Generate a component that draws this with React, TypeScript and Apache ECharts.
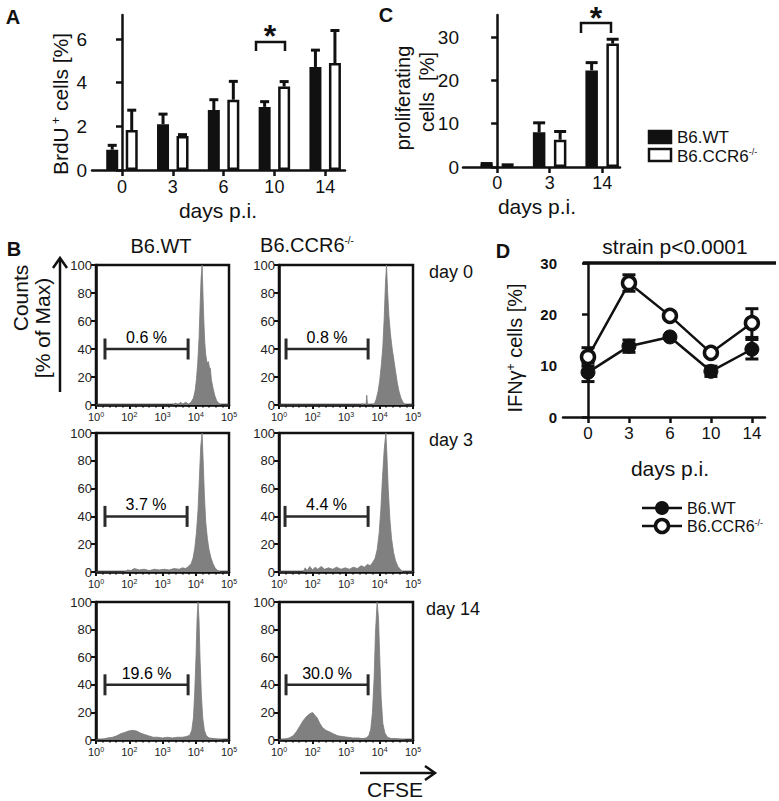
import React, { useEffect, useRef } from 'react';
import * as echarts from 'echarts';

// ---------- data ----------
const DAYS_A = ['0', '3', '6', '10', '14'];
const BRDU_WT = [0.93, 2.1, 2.75, 2.89, 4.72];
const BRDU_WT_ERR = [0.2, 0.46, 0.47, 0.24, 0.77];
const BRDU_KO = [1.83, 1.56, 3.22, 3.82, 4.9];
const BRDU_KO_ERR = [0.91, 0.06, 0.84, 0.23, 1.49];

const DAYS_C = ['0', '3', '14'];
const PROLIF_WT = [0.6, 8.0, 22.3];
const PROLIF_WT_ERR = [0.2, 2.2, 1.8];
const PROLIF_KO = [0.4, 6.3, 28.5];
const PROLIF_KO_ERR = [0.1, 1.9, 1.0];

const DAYS_D = ['0', '3', '6', '10', '14'];
const IFN_WT = [8.7, 13.8, 15.6, 8.9, 13.2];
const IFN_WT_ERR = [1.8, 1.2, 0.3, 1.0, 1.9];
const IFN_KO = [11.7, 26.1, 19.7, 12.5, 18.3];
const IFN_KO_ERR = [1.8, 1.6, 0.5, 0.4, 2.8];

const SERIES_NAMES = ['B6.WT', 'B6.CCR6'];
const CFSE_EXP = ['0', '2', '3', '4', '5'];
const ROW_LABELS = ['day 0', 'day 3', 'day 14'];

// histograms: [display position on CFSE axis, % of max]
const H_WT_D0 = [[0,0],[2.3,0],[2.4,1.5],[2.45,0],[2.55,2],[2.6,0.5],[2.7,2],[2.78,0.5],[2.86,2],[2.93,5],[2.98,10],[3.02,18],[3.06,30],[3.1,48],[3.13,70],[3.16,90],[3.19,100],[3.21,85],[3.24,62],[3.27,45],[3.3,36],[3.34,30],[3.38,31],[3.41,27],[3.44,26],[3.47,18],[3.52,12],[3.57,7],[3.63,3],[3.7,1],[3.78,0],[4,0]];
const H_KO_D0 = [[0,0],[2.45,0],[2.5,1],[2.55,0],[2.6,0.5],[2.62,7],[2.64,0.5],[2.75,0],[2.85,1],[2.9,4],[2.96,10],[3.01,18],[3.06,30],[3.1,42],[3.14,62],[3.18,88],[3.21,100],[3.24,82],[3.28,64],[3.33,50],[3.38,40],[3.43,32],[3.48,24],[3.53,16],[3.58,10],[3.64,5],[3.7,2],[3.78,0],[4,0]];
const H_WT_D3 = [[0,0],[0.85,0],[0.95,1.5],[1.05,1],[1.15,2.5],[1.3,1.5],[1.45,2],[1.6,1],[1.75,2],[1.9,1.5],[2.05,2],[2.2,1.5],[2.35,2.5],[2.5,2],[2.6,3],[2.7,2.5],[2.78,4],[2.86,6],[2.92,10],[2.97,17],[3.02,28],[3.07,45],[3.11,68],[3.15,90],[3.19,100],[3.22,82],[3.26,55],[3.3,36],[3.35,24],[3.4,16],[3.46,10],[3.52,6],[3.58,3],[3.66,1],[3.75,0],[4,0]];
const H_KO_D3 = [[0,0],[0.72,0],[0.78,3],[0.84,1],[0.92,4],[1.0,1.5],[1.08,3.5],[1.16,2],[1.26,4],[1.36,2],[1.48,3],[1.6,2],[1.72,3.5],[1.85,2],[1.98,3],[2.1,2],[2.22,3.5],[2.34,2.5],[2.45,4.5],[2.55,3.5],[2.64,5.5],[2.72,4.5],[2.8,7],[2.87,10],[2.93,16],[2.99,28],[3.04,45],[3.09,68],[3.14,88],[3.19,100],[3.22,85],[3.26,60],[3.31,38],[3.36,24],[3.42,14],[3.48,8],[3.55,4],[3.62,2],[3.7,0],[4,0]];
const H_WT_D14 = [[0,0],[0.2,0.5],[0.35,1.5],[0.5,2],[0.62,3],[0.74,4.5],[0.86,5.5],[0.98,6.5],[1.1,7],[1.22,6.5],[1.34,5],[1.46,4],[1.58,3],[1.72,2],[1.86,2],[2.0,1.5],[2.15,2],[2.3,1.5],[2.45,2],[2.6,2],[2.72,2.5],[2.82,3.5],[2.88,7],[2.93,16],[2.97,35],[3.01,62],[3.04,88],[3.07,100],[3.1,86],[3.13,58],[3.17,32],[3.21,16],[3.26,7],[3.32,3],[3.4,1.5],[3.55,1],[3.7,0.5],[3.85,0],[4,0]];
const H_KO_D14 = [[0,0],[0.15,0.5],[0.3,1.5],[0.42,3],[0.52,6],[0.62,10],[0.72,14],[0.82,17],[0.92,19],[1.0,20],[1.07,18],[1.14,16],[1.22,12],[1.3,9],[1.4,7],[1.5,6],[1.62,4.5],[1.76,3],[1.9,2.5],[2.05,2],[2.2,1.5],[2.35,1.5],[2.5,1],[2.6,1.5],[2.68,3],[2.74,8],[2.79,20],[2.84,45],[2.88,78],[2.93,100],[2.97,88],[3.01,58],[3.05,30],[3.1,12],[3.16,5],[3.24,2],[3.35,1],[3.5,1],[3.65,0.5],[3.8,0],[4,0]];
const HISTOGRAMS = [H_WT_D0, H_KO_D0, H_WT_D3, H_KO_D3, H_WT_D14, H_KO_D14];
const GATE_LO = [0.27, 0.21, 0.27, 0.18, 0.27, 0.21];
const GATE_HI = [2.77, 2.66, 2.74, 2.66, 2.77, 2.66];
const GATE_PCT = ['0.6 %', '0.8 %', '3.7 %', '4.4 %', '19.6 %', '30.0 %'];
const GATE_LEVEL = 40;

// ---------- style ----------
const FONT = "'Liberation Sans', Arial, Helvetica, sans-serif";
const INK = '#111';
const GRAY = '#808080';

const axisLine = { show: true, lineStyle: { color: INK, width: 2.5 } };
const axisTick = (len: number, w: number) => ({ show: true, length: len, lineStyle: { color: INK, width: w } });

function errSeries(xi: number, yi: number, means: number[], errs: number[], offset: number, cap: number, both: boolean, lw: number) {
  return {
    type: 'custom',
    xAxisIndex: xi,
    yAxisIndex: yi,
    z: 3,
    silent: true,
    data: means.map((m, i) => [i, m, errs[i]]),
    renderItem: (_p: any, api: any) => {
      const x = api.value(0);
      const m = api.value(1);
      const e = api.value(2);
      const lo = api.coord([x, both ? m - e : m]);
      const hi = api.coord([x, m + e]);
      const cx = lo[0] + offset;
      const st = { stroke: INK, lineWidth: lw };
      const children: any[] = [
        { type: 'line', shape: { x1: cx, y1: lo[1], x2: cx, y2: hi[1] }, style: st },
        { type: 'line', shape: { x1: cx - cap / 2, y1: hi[1], x2: cx + cap / 2, y2: hi[1] }, style: st },
      ];
      if (both) children.push({ type: 'line', shape: { x1: cx - cap / 2, y1: lo[1], x2: cx + cap / 2, y2: lo[1] }, style: st });
      return { type: 'group', children };
    },
  };
}

const gRich = (size: number, sup: number) => ({
  n: { fontSize: size, fontFamily: FONT, fill: INK },
  s: { fontSize: sup, fontFamily: FONT, fill: INK, verticalAlign: 'top' },
});

function txt(text: string, x: number, y: number, size: number, opts: any = {}) {
  return {
    type: 'text',
    x,
    y,
    rotation: opts.rotation || 0,
    silent: true,
    style: {
      text,
      fontSize: size,
      fontFamily: FONT,
      fontWeight: opts.bold ? 'bold' : 'normal',
      fill: INK,
      align: opts.align || 'center',
      verticalAlign: 'middle',
      rich: opts.rich,
    },
  };
}

function buildOption() {
  const grid: any[] = [];
  const xAxis: any[] = [];
  const yAxis: any[] = [];
  const series: any[] = [];

  // ---- A ----
  grid.push({ left: 92, top: 15, width: 253, height: 155 });
  xAxis.push({
    type: 'value', gridIndex: 0, min: -0.59, max: 4.39,
    axisLine, axisTick: { ...axisTick(6, 2.5), customValues: [0, 1, 2, 3, 4] },
    splitLine: { show: false },
    axisLabel: { customValues: [0, 1, 2, 3, 4], formatter: (v: number) => DAYS_A[Math.round(v)], fontSize: 18, fontFamily: FONT, color: INK, margin: 8 },
  });
  yAxis.push({
    type: 'value', gridIndex: 0, min: 0, max: 7.1,
    axisLine, axisTick: { ...axisTick(6, 2.5), customValues: [0, 2, 4, 6] },
    splitLine: { show: false },
    axisLabel: { customValues: [0, 2, 4, 6], fontSize: 19, fontFamily: FONT, color: INK, margin: 5 },
  });
  series.push(
    { type: 'bar', name: SERIES_NAMES[0], xAxisIndex: 0, yAxisIndex: 0, barWidth: 12, barGap: '62.5%', data: BRDU_WT.map((v, i) => [i, v]), itemStyle: { color: INK, borderColor: INK, borderWidth: 2.5 } },
    { type: 'bar', name: SERIES_NAMES[1], xAxisIndex: 0, yAxisIndex: 0, barWidth: 12, barGap: '62.5%', data: BRDU_KO.map((v, i) => [i, v]), itemStyle: { color: '#fff', borderColor: INK, borderWidth: 2.5 } },
    errSeries(0, 0, BRDU_WT, BRDU_WT_ERR, -9.75, 9, false, 3),
    errSeries(0, 0, BRDU_KO, BRDU_KO_ERR, 9.75, 9, false, 3),
  );

  // ---- C ----
  grid.push({ left: 463, top: 15, width: 157, height: 152 });
  xAxis.push({
    type: 'value', gridIndex: 1, min: -0.65, max: 2.34,
    axisLine, axisTick: { ...axisTick(6, 2.5), customValues: [0, 1, 2] },
    splitLine: { show: false },
    axisLabel: { customValues: [0, 1, 2], formatter: (v: number) => DAYS_C[Math.round(v)], fontSize: 18, fontFamily: FONT, color: INK, margin: 7 },
  });
  yAxis.push({
    type: 'value', gridIndex: 1, min: 0, max: 35.1,
    axisLine, axisTick: { ...axisTick(6, 2.5), customValues: [0, 10, 20, 30] },
    splitLine: { show: false },
    axisLabel: { customValues: [0, 10, 20, 30], fontSize: 19, fontFamily: FONT, color: INK, margin: 4 },
  });
  series.push(
    { type: 'bar', name: SERIES_NAMES[0], xAxisIndex: 1, yAxisIndex: 1, barWidth: 12.5, barGap: '68%', data: PROLIF_WT.map((v, i) => [i, v]), itemStyle: { color: INK, borderColor: INK, borderWidth: 2.5 } },
    { type: 'bar', name: SERIES_NAMES[1], xAxisIndex: 1, yAxisIndex: 1, barWidth: 12.5, barGap: '68%', data: PROLIF_KO.map((v, i) => [i, v]), itemStyle: { color: '#fff', borderColor: INK, borderWidth: 2.5 } },
    errSeries(1, 1, PROLIF_WT, PROLIF_WT_ERR, -10.5, 12, false, 3),
    errSeries(1, 1, PROLIF_KO, PROLIF_KO_ERR, 10.5, 12, false, 3),
  );

  // ---- D ----
  grid.push({ left: 563, top: 263, width: 202, height: 154 });
  xAxis.push({
    type: 'value', gridIndex: 2, min: -0.61, max: 4.32,
    axisLine, axisTick: { ...axisTick(6, 2.5), customValues: [0, 1, 2, 3, 4] },
    splitLine: { show: false },
    axisLabel: { customValues: [0, 1, 2, 3, 4], formatter: (v: number) => DAYS_D[Math.round(v)], fontSize: 17, fontFamily: FONT, color: INK, margin: 8 },
  });
  yAxis.push({
    type: 'value', gridIndex: 2, min: 0, max: 30, interval: 10,
    axisLine, axisTick: axisTick(6, 2.5),
    splitLine: { show: false },
    axisLabel: { fontSize: 15, fontWeight: 'bold', fontFamily: FONT, color: INK, margin: 6 },
  });
  series.push(
    errSeries(2, 2, IFN_WT, IFN_WT_ERR, 0, 13, true, 3),
    errSeries(2, 2, IFN_KO, IFN_KO_ERR, 0, 13, true, 3),
    { type: 'line', name: SERIES_NAMES[0], xAxisIndex: 2, yAxisIndex: 2, z: 4, data: IFN_WT.map((v, i) => [i, v]), symbol: 'circle', symbolSize: 14, lineStyle: { color: INK, width: 2.5 }, itemStyle: { color: INK, borderColor: INK, borderWidth: 1 } },
    { type: 'line', name: SERIES_NAMES[1], xAxisIndex: 2, yAxisIndex: 2, z: 5, data: IFN_KO.map((v, i) => [i, v]), symbol: 'circle', symbolSize: 13, lineStyle: { color: INK, width: 2.5 }, itemStyle: { color: '#fff', borderColor: INK, borderWidth: 3.5 } },
  );

  // ---- B histograms ----
  const colLeft = [96, 279];
  const colWidth = [133, 134];
  const rowTop = [265, 433, 602];
  const rowHeight = [140, 139, 138];
  HISTOGRAMS.forEach((h, k) => {
    const r = Math.floor(k / 2);
    const c = k % 2;
    const gi = 3 + k;
    grid.push({ left: colLeft[c], top: rowTop[r], width: colWidth[c], height: rowHeight[r], show: true, borderColor: INK, borderWidth: 2.5, backgroundColor: 'transparent' });
    xAxis.push({
      type: 'value', gridIndex: gi, min: 0, max: 4, interval: 1,
      axisLine: { show: true, lineStyle: { color: INK, width: 2.5 } },
      axisTick: axisTick(4, 2),
      minorTick: { show: true, splitNumber: 5, length: 2.5, lineStyle: { color: INK, width: 1.5 } },
      splitLine: { show: false },
      axisLabel: {
        color: '#222',
        fontFamily: FONT,
        formatter: (v: number) => `{n|10}{s|${CFSE_EXP[Math.round(v)]}}`,
        rich: {
          n: { fontSize: 11, fontFamily: FONT, color: '#222' },
          s: { fontSize: 7, fontFamily: FONT, color: '#222', verticalAlign: 'top' },
        },
        margin: 6,
      },
    });
    yAxis.push({
      type: 'value', gridIndex: gi, min: 0, max: 100, interval: 20,
      axisLine: { show: true, lineStyle: { color: INK, width: 2.5 } },
      axisTick: axisTick(5, 2),
      splitLine: { show: false },
      axisLabel: { fontSize: 13, fontFamily: FONT, color: '#222', margin: 4 },
    });
    series.push({
      type: 'line', xAxisIndex: gi, yAxisIndex: gi, data: h, symbol: 'none', silent: true,
      lineStyle: { color: '#7a7a7a', width: 0.8 }, areaStyle: { color: GRAY, opacity: 1 },
    });
    const lo = GATE_LO[k];
    const hi = GATE_HI[k];
    series.push({
      type: 'line', xAxisIndex: gi, yAxisIndex: gi, z: 4, silent: true,
      data: [[lo, GATE_LEVEL], [hi, GATE_LEVEL]],
      symbol: 'rect', symbolSize: [3, 21],
      itemStyle: { color: '#2a2a2a' },
      lineStyle: { color: '#2a2a2a', width: 2.5 },
    });
    series.push({
      type: 'scatter', xAxisIndex: gi, yAxisIndex: gi, z: 5, silent: true,
      data: [[(lo + hi) / 2, GATE_LEVEL]],
      symbol: 'circle', symbolSize: 1, itemStyle: { color: 'rgba(0,0,0,0)' },
      label: { show: true, position: 'top', distance: 3, formatter: GATE_PCT[k], fontSize: 16, fontFamily: FONT, color: '#000', opacity: 1 },
      labelLayout: { hideOverlap: false },
    });
  });

  // ---- graphics ----
  const stroke = { stroke: INK, lineWidth: 2.5, fill: 'none' };
  const graphic: any[] = [
    txt('A', 13, 17, 20, { bold: true }),
    txt('C', 386, 15, 20, { bold: true }),
    txt('B', 14, 249, 20, { bold: true }),
    txt('D', 503, 251, 20, { bold: true }),
    // A titles
    txt('{n|BrdU}{s| +}{n| cells [%]}', 60, 104, 21, { rotation: Math.PI / 2, rich: gRich(21, 12) }),
    txt('days p.i.', 218, 210, 21),
    { type: 'polyline', shape: { points: [[256, 51], [256, 42], [285, 42], [285, 51]] }, style: stroke },
    txt('*', 270, 36, 32, { bold: true }),
    // C titles
    txt('proliferating', 403, 98, 20, { rotation: Math.PI / 2 }),
    txt('cells  [%]', 427, 92, 20, { rotation: Math.PI / 2 }),
    txt('days p.i.', 537, 206, 21),
    { type: 'polyline', shape: { points: [[581, 33], [581, 23], [611, 23], [611, 33]] }, style: stroke },
    txt('*', 596, 18, 32, { bold: true }),
    // C legend
    { type: 'rect', shape: { x: 649, y: 131, width: 22, height: 12 }, style: { fill: INK, stroke: INK, lineWidth: 2.5 } },
    txt(SERIES_NAMES[0], 677, 137, 17, { align: 'left' }),
    { type: 'rect', shape: { x: 649, y: 149, width: 22, height: 12 }, style: { fill: '#fff', stroke: INK, lineWidth: 2.5 } },
    txt(`{n|${SERIES_NAMES[1]}}{s|-/-}`, 677, 156, 17, { align: 'left', rich: gRich(17, 9) }),
    // D titles
    txt('{n|IFNγ}{s|+}{n| cells [%]}', 515, 348, 20, { rotation: Math.PI / 2, rich: gRich(20, 12) }),
    txt('days p.i.', 670, 468, 21),
    txt('strain p<0.0001', 675, 246, 21),
    { type: 'line', shape: { x1: 583, y1: 263, x2: 776, y2: 263 }, style: { stroke: INK, lineWidth: 3.5 } },
    // D legend
    { type: 'line', shape: { x1: 642, y1: 508, x2: 682, y2: 508 }, style: { stroke: INK, lineWidth: 2.5 } },
    { type: 'circle', shape: { cx: 662, cy: 508, r: 7 }, style: { fill: INK } },
    txt(SERIES_NAMES[0], 687, 508, 16, { align: 'left' }),
    { type: 'line', shape: { x1: 642, y1: 526, x2: 682, y2: 526 }, style: { stroke: INK, lineWidth: 2.5 } },
    { type: 'circle', shape: { cx: 662, cy: 526, r: 6.5 }, style: { fill: '#fff', stroke: INK, lineWidth: 3.5 } },
    txt(`{n|${SERIES_NAMES[1]}}{s|-/-}`, 687, 526, 16, { align: 'left', rich: gRich(16, 9) }),
    // B titles
    txt(SERIES_NAMES[0], 161, 246, 20),
    txt(`{n|${SERIES_NAMES[1]}}{s|-/-}`, 307, 245, 20, { rich: gRich(20, 10) }),
    txt(ROW_LABELS[0], 451, 272, 18),
    txt(ROW_LABELS[1], 451, 440, 18),
    txt(ROW_LABELS[2], 453, 609, 18),
    txt('Counts', 20, 298, 21, { rotation: Math.PI / 2 }),
    txt('[% of Max)', 42, 328, 21, { rotation: Math.PI / 2 }),
    { type: 'line', shape: { x1: 60, y1: 392, x2: 60, y2: 259 }, style: { stroke: INK, lineWidth: 2.5 } },
    { type: 'polyline', shape: { points: [[53, 268], [60, 258], [67, 268]] }, style: stroke },
    { type: 'line', shape: { x1: 360, y1: 773, x2: 434, y2: 773 }, style: { stroke: INK, lineWidth: 2.5 } },
    { type: 'polyline', shape: { points: [[425, 766], [435, 773], [425, 780]] }, style: stroke },
    txt('CFSE', 395, 789, 21),
  ];

  return {
    animation: false,
    backgroundColor: '#fff',
    textStyle: { fontFamily: FONT },
    grid,
    xAxis,
    yAxis,
    series,
    graphic,
  };
}

export default function App() {
  const ref = useRef<HTMLDivElement>(null);
  useEffect(() => {
    document.body.style.margin = '0';
    if (!ref.current) return;
    const chart = echarts.init(ref.current, undefined, { renderer: 'svg' });
    chart.setOption(buildOption() as any);
    return () => chart.dispose();
  }, []);
  return <div ref={ref} style={{ width: 779, height: 801 }} />;
}
